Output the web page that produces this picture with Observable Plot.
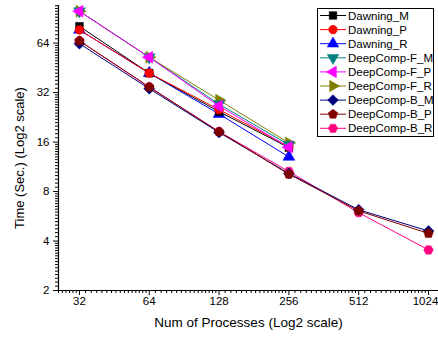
<!DOCTYPE html>
<html>
<head>
<meta charset="utf-8">
<script src="https://cdn.jsdelivr.net/npm/d3@7"></script>
<script src="https://cdn.jsdelivr.net/npm/@observablehq/plot@0.6"></script>
<style>
  html, body { margin: 0; padding: 0; background: #fff; overflow: hidden; }
  #chart { width: 438px; height: 338px; }
</style>
</head>
<body>
<div id="chart"></div>
<script>
// ---- data ----
const processes = [32, 64, 128, 256, 512, 1024];
const seriesNames = ["Dawning_M", "Dawning_P", "Dawning_R", "DeepComp-F_M", "DeepComp-F_P", "DeepComp-F_R", "DeepComp-B_M", "DeepComp-B_P", "DeepComp-B_R"];
const dawningM = [81, 42, 24.5, 14.8];
const dawningP = [77, 42, 25.2, 15];
const dawningR = [77, 42, 23.7, 13];
const deepFM = [100, 52.5, 27.2, 15.4];
const deepFP = [100, 52.5, 26.5, 14.9];
const deepFR = [100, 52.5, 28.8, 15.8];
const deepBM = [63.5, 33.8, 18.3, 10.3, 6.2, 4.6];
const deepBP = [66, 34.6, 18.5, 10.2, 6.1, 4.45];
const deepBR = [66, 34.6, 18.5, 10.6, 5.95, 3.53];
const yTicks = [2, 4, 8, 16, 32, 64];
const xTicks = [32, 64, 128, 256, 512, 1024];
const colors = ["#000000", "#ff0000", "#0000ff", "#008080", "#ff00ff", "#808000", "#000080", "#800000", "#ff0080"];

// ---- custom symbols ----
function tri(dir) {
  return {draw(ctx, size) {
    const s3 = Math.sqrt(3);
    const y = -Math.sqrt(size / (s3 * 3));
    let pts = [[0, y * 2], [-s3 * y, -y], [s3 * y, -y]]; // up
    if (dir === "down") pts = pts.map(([a, b]) => [a, -b]);
    if (dir === "left") pts = pts.map(([a, b]) => [b, a]);
    if (dir === "right") pts = pts.map(([a, b]) => [-b, a]);
    ctx.moveTo(pts[0][0], pts[0][1]);
    ctx.lineTo(pts[1][0], pts[1][1]);
    ctx.lineTo(pts[2][0], pts[2][1]);
    ctx.closePath();
  }};
}
function poly(n, rot) {
  return {draw(ctx, size) {
    const R = Math.sqrt(2 * size / (n * Math.sin(2 * Math.PI / n)));
    for (let i = 0; i < n; i++) {
      const a = rot + i * 2 * Math.PI / n;
      const px = R * Math.sin(a), py = -R * Math.cos(a);
      if (i === 0) ctx.moveTo(px, py); else ctx.lineTo(px, py);
    }
    ctx.closePath();
  }};
}
const symbols = [d3.symbolSquare, d3.symbolCircle, tri("up"), tri("down"), tri("left"), tri("right"), poly(4, 0), poly(5, 0), poly(6, Math.PI / 6)];
const values = [dawningM, dawningP, dawningR, deepFM, deepFP, deepFR, deepBM, deepBP, deepBR];

const series = seriesNames.map((name, i) => ({
  name, color: colors[i], symbol: symbols[i],
  data: values[i].map((v, j) => ({x: processes[j], y: v}))
}));
// drawing order: R, M, P inside each group
const drawOrder = [2, 0, 1, 5, 3, 4, 8, 6, 7];

// minor ticks
function minors(lo, hi, from, to) {
  const out = [];
  for (let v = from; v < to; v *= 2) {
    for (let k = 1; k < 16; k++) {
      const t = v * (1 + k / 16);
      if (t >= lo && t <= hi) out.push(t);
    }
  }
  return out;
}
const xDomain = [Math.pow(2, 4.7), Math.pow(2, 10.143)];
const yDomain = [2, Math.pow(2, 6.76)];
const xMinor = minors(xDomain[0], xDomain[1], 16, 1024);
const yMinor = minors(yDomain[0], yDomain[1], 1, 128);

const marks = [];
marks.push(Plot.axisX({ticks: xMinor, tickSize: 3, tickFormat: () => "", label: null, stroke: "black"}));
marks.push(Plot.axisY({ticks: yMinor, tickSize: 3, tickFormat: () => "", label: null, stroke: "black"}));
marks.push(Plot.axisX({ticks: xTicks, tickSize: 5, tickFormat: () => "", label: null, stroke: "black"}));
marks.push(Plot.text(xTicks.slice(0, -1), {x: d => d, frameAnchor: "bottom", dy: 14, text: d => String(d), fontSize: 11.5, fill: "black"}));
marks.push(Plot.text(xTicks.slice(-1), {x: d => d, frameAnchor: "bottom", dy: 14, dx: -3, text: d => String(d), fontSize: 11.5, fill: "black"}));
marks.push(Plot.axisY({ticks: yTicks, tickSize: 5, tickPadding: 4, tickFormat: d => String(d), label: null, stroke: "black", fill: "black", fontSize: 11.5}));
marks.push(Plot.ruleY([yDomain[0]], {stroke: "black", strokeWidth: 1.2}));
marks.push(Plot.ruleX([xDomain[0]], {stroke: "black", strokeWidth: 1.2}));
for (const i of drawOrder) {
  const s = series[i];
  marks.push(Plot.line(s.data, {x: "x", y: "y", stroke: s.color, strokeWidth: 1}));
  marks.push(Plot.dot(s.data, {x: "x", y: "y", symbol: s.symbol, r: 4.4, fill: s.color, stroke: s.color, strokeWidth: 0.5}));
}
marks.push(Plot.text(["Num of Processes (Log2 scale)"], {frameAnchor: "bottom", textAnchor: "middle", dy: 36, fontSize: 13.5, fill: "black"}));
marks.push(Plot.text(["Time (Sec.) (Log2 scale)"], {frameAnchor: "left", textAnchor: "middle", dx: -39, dy: 10, rotate: -90, fontSize: 13, fill: "black"}));

const chart = Plot.plot({
  width: 438,
  height: 338,
  marginLeft: 58,
  marginRight: 0,
  marginTop: 5,
  marginBottom: 48,
  style: {fontFamily: "'Liberation Sans', Arial, sans-serif", background: "#fff", color: "black"},
  x: {type: "log", base: 2, domain: xDomain, axis: null},
  y: {type: "log", base: 2, domain: yDomain, axis: null},
  marks
});
document.getElementById("chart").appendChild(chart);

// ---- legend ----
const svg = d3.select(chart);
const lg = svg.append("g").attr("font-family", "'Liberation Sans', Arial, sans-serif").attr("font-size", 11.5).attr("text-anchor", "start");
lg.append("rect").attr("x", 317.5).attr("y", 8.5).attr("width", 116).attr("height", 128)
  .attr("fill", "white").attr("stroke", "black").attr("stroke-width", 1);
series.forEach((s, i) => {
  const cy = 15.5 + i * 14.1;
  lg.append("line").attr("x1", 320).attr("x2", 346).attr("y1", cy).attr("y2", cy)
    .attr("stroke", s.color).attr("stroke-width", 1);
  lg.append("path").attr("d", d3.symbol(s.symbol, Math.PI * 4.3 * 4.3)())
    .attr("transform", `translate(333,${cy})`).attr("fill", s.color).attr("stroke", s.color).attr("stroke-width", 0.5);
  lg.append("text").attr("x", 348).attr("y", cy).attr("dy", "0.35em").attr("text-anchor", "start").attr("fill", "black").text(s.name);
});
</script>
</body>
</html>
